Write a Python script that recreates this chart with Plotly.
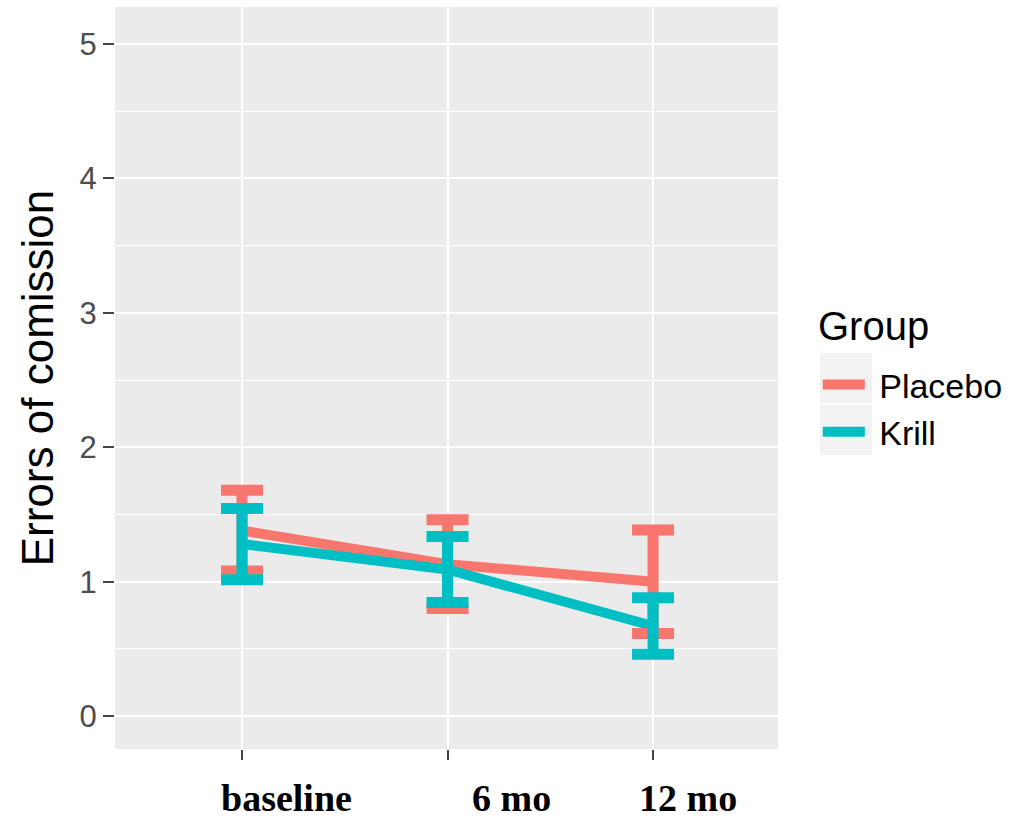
import plotly.graph_objects as go

timepoints = ["baseline", "6 mo", "12 mo"]
groups = ["Placebo", "Krill"]
placebo_mean = [1.38, 1.13, 1.00]
placebo_se = [0.30, 0.33, 0.385]
krill_mean = [1.28, 1.09, 0.67]
krill_se = [0.265, 0.245, 0.21]
colors = {"Placebo": "#F8766D", "Krill": "#00BFC4"}
means = {"Placebo": placebo_mean, "Krill": krill_mean}
ses = {"Placebo": placebo_se, "Krill": krill_se}

fig = go.Figure()
for g in groups:
    fig.add_trace(go.Scatter(
        x=timepoints, y=means[g], mode="lines", name=" " + g,
        line=dict(color=colors[g], width=10), showlegend=True,
    ))
for g in groups:
    fig.add_trace(go.Scatter(
        x=timepoints, y=means[g], mode="markers", showlegend=False,
        marker=dict(size=1, color="rgba(0,0,0,0)"),
        error_y=dict(type="data", array=ses[g], visible=True,
                     color=colors[g], thickness=11, width=21),
        hoverinfo="skip",
    ))

# x tick labels (bold serif, offset to the right as in reference)
label_shift = [44, 64, 35]
for t, s in zip(timepoints, label_shift):
    fig.add_annotation(x=t, xref="x", y=0, yref="paper", yshift=-72, xshift=s,
                       text=f"<b>{t}</b>", showarrow=False,
                       font=dict(family="Liberation Serif", size=38, color="black"))

# legend title
fig.add_annotation(x=(816 - 115) / 663, xref="paper", xanchor="left",
                   y=(749 - 326) / 742, yref="paper", yanchor="middle",
                   text="Group", showarrow=False,
                   font=dict(size=40, color="black"))

# legend key backgrounds
for i in range(2):
    fig.add_shape(type="rect", xref="paper", yref="paper",
                  x0=(820 - 115) / 663, x1=(872 - 115) / 663,
                  y0=(749 - (403 + i * 52)) / 742, y1=(749 - (353 + i * 52)) / 742,
                  fillcolor="#F2F2F2", line=dict(width=0), layer="below")

fig.update_layout(
    width=1035, height=820,
    margin=dict(l=115, r=257, t=7, b=71),
    paper_bgcolor="white", plot_bgcolor="#EBEBEB",
    font=dict(family="Liberation Sans, Arial", color="black"),
    showlegend=True,
    legend=dict(font=dict(size=34), x=1.06, xanchor="left",
                y=(749 - 356) / 742, yanchor="top", bgcolor="rgba(0,0,0,0)",
                itemwidth=42, tracegroupgap=0),
)
fig.update_xaxes(type="category", range=[-0.618, 2.608], showgrid=True,
                 gridcolor="white", gridwidth=2, showticklabels=False,
                 ticks="outside", ticklen=10, tickwidth=2, tickcolor="#444444",
                 zeroline=False, showline=False)
fig.update_yaxes(range=[-0.245, 5.275], tickvals=[0, 1, 2, 3, 4, 5],
                 showgrid=True, gridcolor="white", gridwidth=2,
                 minor=dict(dtick=0.5, tick0=0, showgrid=True, gridcolor="white",
                            gridwidth=1, ticks=""),
                 ticks="outside", ticklen=11, tickwidth=2, tickcolor="#444444",
                 tickfont=dict(size=31, color="#4D4D4D"),
                 title=dict(text="Errors of comission", font=dict(size=44, color="black"),
                            standoff=12),
                 zeroline=False, showline=False)

fig.write_html("out.html")
